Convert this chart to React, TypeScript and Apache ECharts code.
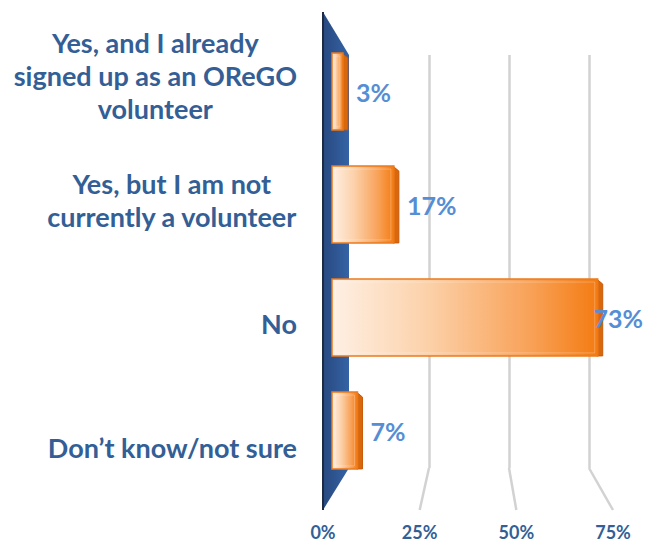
import React, { useEffect, useRef } from "react";
import * as echarts from "echarts";

const categories = [
  "Yes, and I already\nsigned up as an OReGO\nvolunteer",
  "Yes, but I am not\ncurrently a volunteer",
  "No",
  "Don’t know/not sure",
];
const values = [3, 17, 73, 7];
const tickValues = [0, 25, 50, 75];
const AXIS_MAX = 75;

const FONT = "Lato";
const LABEL_COLOR = "#335f96";
const VALUE_COLOR = "#558ed5";

const FRONT = { left: 323, top: 12, width: 290, height: 498 };
const BACK = { left: 349, top: 55, width: 240, height: 413 };
const BARS = { left: 332, top: 35, width: 273, height: 452 };
const LABELS = { left: 323, top: 14, width: 290, height: 495 };

export default function App() {
  const ref = useRef<HTMLDivElement>(null);
  useEffect(() => {
    if (!ref.current) return;
    const chart = echarts.init(ref.current, undefined, { renderer: "svg" });
    const valueAxisBase = {
      type: "value" as const,
      min: 0,
      max: AXIS_MAX,
      interval: 25,
    };
    const option: any = {
      animation: false,
      backgroundColor: "#ffffff",
      grid: [
        { ...FRONT, containLabel: false },
        { ...BACK, containLabel: false },
        { ...BARS, containLabel: false },
        { ...LABELS, containLabel: false },
      ],
      xAxis: [
        {
          ...valueAxisBase,
          gridIndex: 0,
          axisLine: { show: false },
          axisTick: { show: false },
          splitLine: { show: false },
          axisLabel: {
            show: true,
            margin: 12,
            formatter: (v: number) => (tickValues.includes(v) ? v + "%" : ""),
            color: LABEL_COLOR,
            fontFamily: FONT,
            fontWeight: "bold",
            fontSize: 18,
            lineHeight: 20,
          },
        },
        {
          ...valueAxisBase,
          gridIndex: 1,
          axisLine: { show: false },
          axisTick: { show: false },
          axisLabel: { show: false },
          splitLine: {
            show: true,
            showMinLine: false,
            lineStyle: { color: "#d2d2d2", width: 2.5 },
          },
        },
        {
          ...valueAxisBase,
          gridIndex: 2,
          show: false,
        },
        {
          ...valueAxisBase,
          gridIndex: 3,
          show: false,
        },
      ],
      yAxis: [
        { type: "category", gridIndex: 0, data: categories, inverse: true, show: false },
        { type: "category", gridIndex: 1, data: categories, inverse: true, show: false },
        { type: "category", gridIndex: 2, data: categories, inverse: true, show: false },
        {
          type: "category",
          gridIndex: 3,
          data: categories,
          inverse: true,
          axisLine: { show: false },
          axisTick: { show: false },
          splitLine: { show: false },
          axisLabel: {
            margin: 26,
            align: "right",
            formatter: (val: string) =>
              val
                .split("\n")
                .map((l) => "{a|" + l + "}")
                .join("\n"),
            rich: {
              a: {
                align: "center",
                fontFamily: FONT,
                fontWeight: "bold",
                fontSize: 27,
                lineHeight: 33,
                color: LABEL_COLOR,
              },
            },
          },
        },
      ],
      series: [
        {
          type: "custom",
          xAxisIndex: 2,
          yAxisIndex: 2,
          z: 5,
          data: values.map((v, i) => [v, i]),
          renderItem: (params: any, api: any) => {
            const v = api.value(0);
            const ci = api.value(1);
            const start = api.coord([0, ci]);
            const end = api.coord([v, ci]);
            const band = api.size([0, 1])[1];
            const h = band * 0.68;
            const cy = start[1];
            const y0 = cy - h / 2;
            const y1 = cy + h / 2;
            const x0 = start[0];
            const x1 = end[0];
            const d = 5;
            const text = Math.round(v) + "%";
            const textW = 48;
            let tx = x1 + d + 8;
            let talign = "left";
            if (tx + textW > api.getWidth() - 4) {
              tx = api.getWidth() - 5;
              talign = "right";
            }
            return {
              type: "group",
              children: [
                {
                  type: "polygon",
                  shape: {
                    points: [
                      [x1 - 1, y0],
                      [x1 + d, y0 + d],
                      [x1 + d, y1],
                      [x1 - 1, y1],
                    ],
                  },
                  style: { fill: "#d9670c", stroke: "#c75a08", lineWidth: 1 },
                },
                {
                  type: "rect",
                  shape: { x: x0, y: y0, width: x1 - x0, height: h },
                  style: {
                    fill: new echarts.graphic.LinearGradient(0, 0, 1, 0, [
                      { offset: 0, color: "#fef0e4" },
                      { offset: 0.35, color: "#fcd2ab" },
                      { offset: 0.75, color: "#f8a157" },
                      { offset: 1, color: "#f47b12" },
                    ]),
                    stroke: "#ec7a1c",
                    lineWidth: 1.5,
                  },
                },
                {
                  type: "rect",
                  shape: { x: x0 + 3, y: y0 + 3, width: Math.max(0, x1 - x0 - 6), height: h - 6 },
                  style: {
                    fill: "none",
                    stroke: "rgba(255,255,255,0.25)",
                    lineWidth: 1,
                  },
                },
                {
                  type: "text",
                  x: tx,
                  y: cy,
                  style: {
                    text,
                    fill: VALUE_COLOR,
                    fontFamily: FONT,
                    fontWeight: "bold",
                    fontSize: 25,
                    align: talign,
                    verticalAlign: "middle",
                  },
                },
              ],
            };
          },
        },
      ],
    };
    chart.setOption(option);

    // 3D decoration: side wall and floor connectors derived from axis scales
    const frontBottom = FRONT.top + FRONT.height;
    const backBottom = BACK.top + BACK.height;
    const fx = (v: number) => chart.convertToPixel({ xAxisIndex: 0 }, v) as number;
    const bx = (v: number) => chart.convertToPixel({ xAxisIndex: 1 }, v) as number;
    const graphics: any[] = [];
    graphics.push({
      type: "polygon",
      z: 1,
      shape: {
        points: [
          [fx(0), FRONT.top],
          [bx(0), BACK.top],
          [bx(0), backBottom],
          [fx(0), frontBottom],
        ],
      },
      style: {
        fill: new echarts.graphic.LinearGradient(0, 0, 1, 0, [
          { offset: 0, color: "#27497f" },
          { offset: 1, color: "#3563a5" },
        ]),
      },
    });
    graphics.push({
      type: "line",
      z: 2,
      shape: { x1: fx(0), y1: FRONT.top, x2: fx(0), y2: frontBottom },
      style: { stroke: "#1c2a44", lineWidth: 2 },
    });
    tickValues.slice(1).forEach((v) => {
      graphics.push({
        type: "line",
        z: 1,
        shape: { x1: bx(v), y1: backBottom, x2: fx(v), y2: frontBottom },
        style: { stroke: "#d2d2d2", lineWidth: 2.5 },
      });
    });
    chart.setOption({ graphic: graphics });

    return () => chart.dispose();
  }, []);
  return (
    <div
      ref={ref}
      style={{ position: "absolute", left: 0, top: 0, width: 648, height: 543 }}
    />
  );
}
